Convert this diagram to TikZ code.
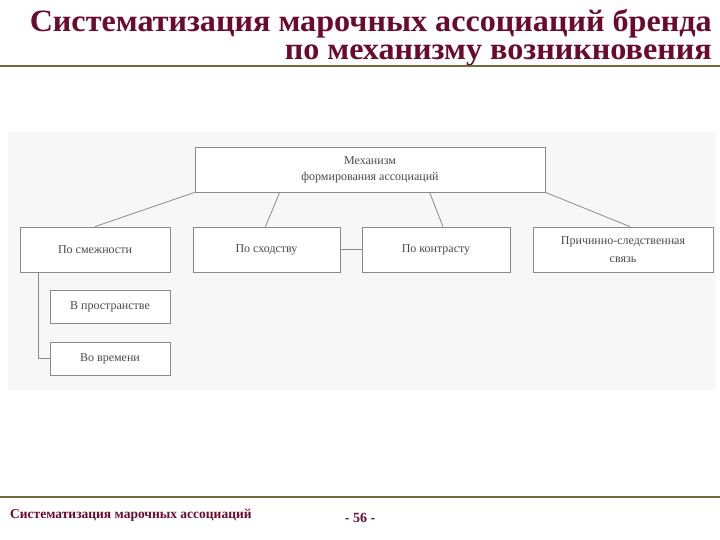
\documentclass[tikz,border=0pt]{standalone}
\usepackage{fontspec}
\setmainfont{Liberation Serif}
\usepackage{graphicx}
\definecolor{maroon}{HTML}{6B0A2C}
\definecolor{olive}{HTML}{6E6A3C}
\definecolor{bgg}{HTML}{F7F7F7}
\definecolor{boxline}{HTML}{8A8A8A}
\definecolor{txt}{HTML}{4A4A4A}
\begin{document}
\begin{tikzpicture}[x=1pt,y=-1pt,
  bx/.style={draw=boxline,line width=0.8pt,fill=white,text=txt,font=\fontsize{12}{14}\selectfont,align=center,inner sep=0pt},
  ln/.style={draw=boxline,line width=0.8pt},
  ttl/.style={inner sep=0pt,text=maroon,font=\fontsize{27}{27}\selectfont\bfseries}]
\useasboundingbox (0,0) rectangle (720,540);
\fill[white] (0,0) rectangle (720,540);
\fill[bgg] (8,132) rectangle (716,390);
% title
\node[ttl,anchor=base east] (t1) at (712,32) {\resizebox{682pt}{1.15\height}{Систематизация марочных ассоциаций бренда}};
\node[ttl,anchor=base east] (t2) at (712,60) {\resizebox{427pt}{1.15\height}{по механизму возникновения}};
\draw[olive,line width=2.5pt] (0,66) -- (720,66);
% boxes
\node[bx,minimum width=350pt,minimum height=45pt] (top) at (370,169.5) {Механизм\\[2pt]формирования ассоциаций};
\node[bx,minimum width=150pt,minimum height=45pt] (a) at (95,249.5) {По смежности};
\node[bx,minimum width=147pt,minimum height=45pt] (b) at (266.5,249.5) {По сходству};
\node[bx,minimum width=148pt,minimum height=45pt] (c) at (436,249.5) {По контрасту};
\node[bx,minimum width=180pt,minimum height=45pt] (d) at (623,249.5) {Причинно-следственная\\[4pt]связь};
\node[bx,minimum width=120pt,minimum height=33pt] (e) at (110,306.5) {В пространстве};
\node[bx,minimum width=120pt,minimum height=33pt] (f) at (110,358.5) {Во времени};
\coordinate (a1) at (38,272);
\draw[ln] (top.south west) -- (a.north);
\draw[ln] (top.south west) ++(85,0) -- ([xshift=-1pt]b.north);
\draw[ln] (top.south west) ++(235,0) -- ([xshift=7pt]c.north);
\draw[ln] (top.south east) -- ([xshift=7pt]d.north);
\draw[ln] (b.east) -- (c.west);
\draw[ln] (a1) |- (f.west);
% footer
\draw[olive,line width=2pt] (0,497) -- (720,497);
\node[anchor=base west,inner sep=0pt,text=maroon,font=\fontsize{13.5}{15}\selectfont\bfseries] (ft) at (10,518) {Систематизация марочных ассоциаций};
\node[anchor=base,inner sep=0pt,text=maroon,font=\fontsize{14}{16}\selectfont\bfseries] (pg) at (360,522) {- 56 -};
\end{tikzpicture}
\end{document}
